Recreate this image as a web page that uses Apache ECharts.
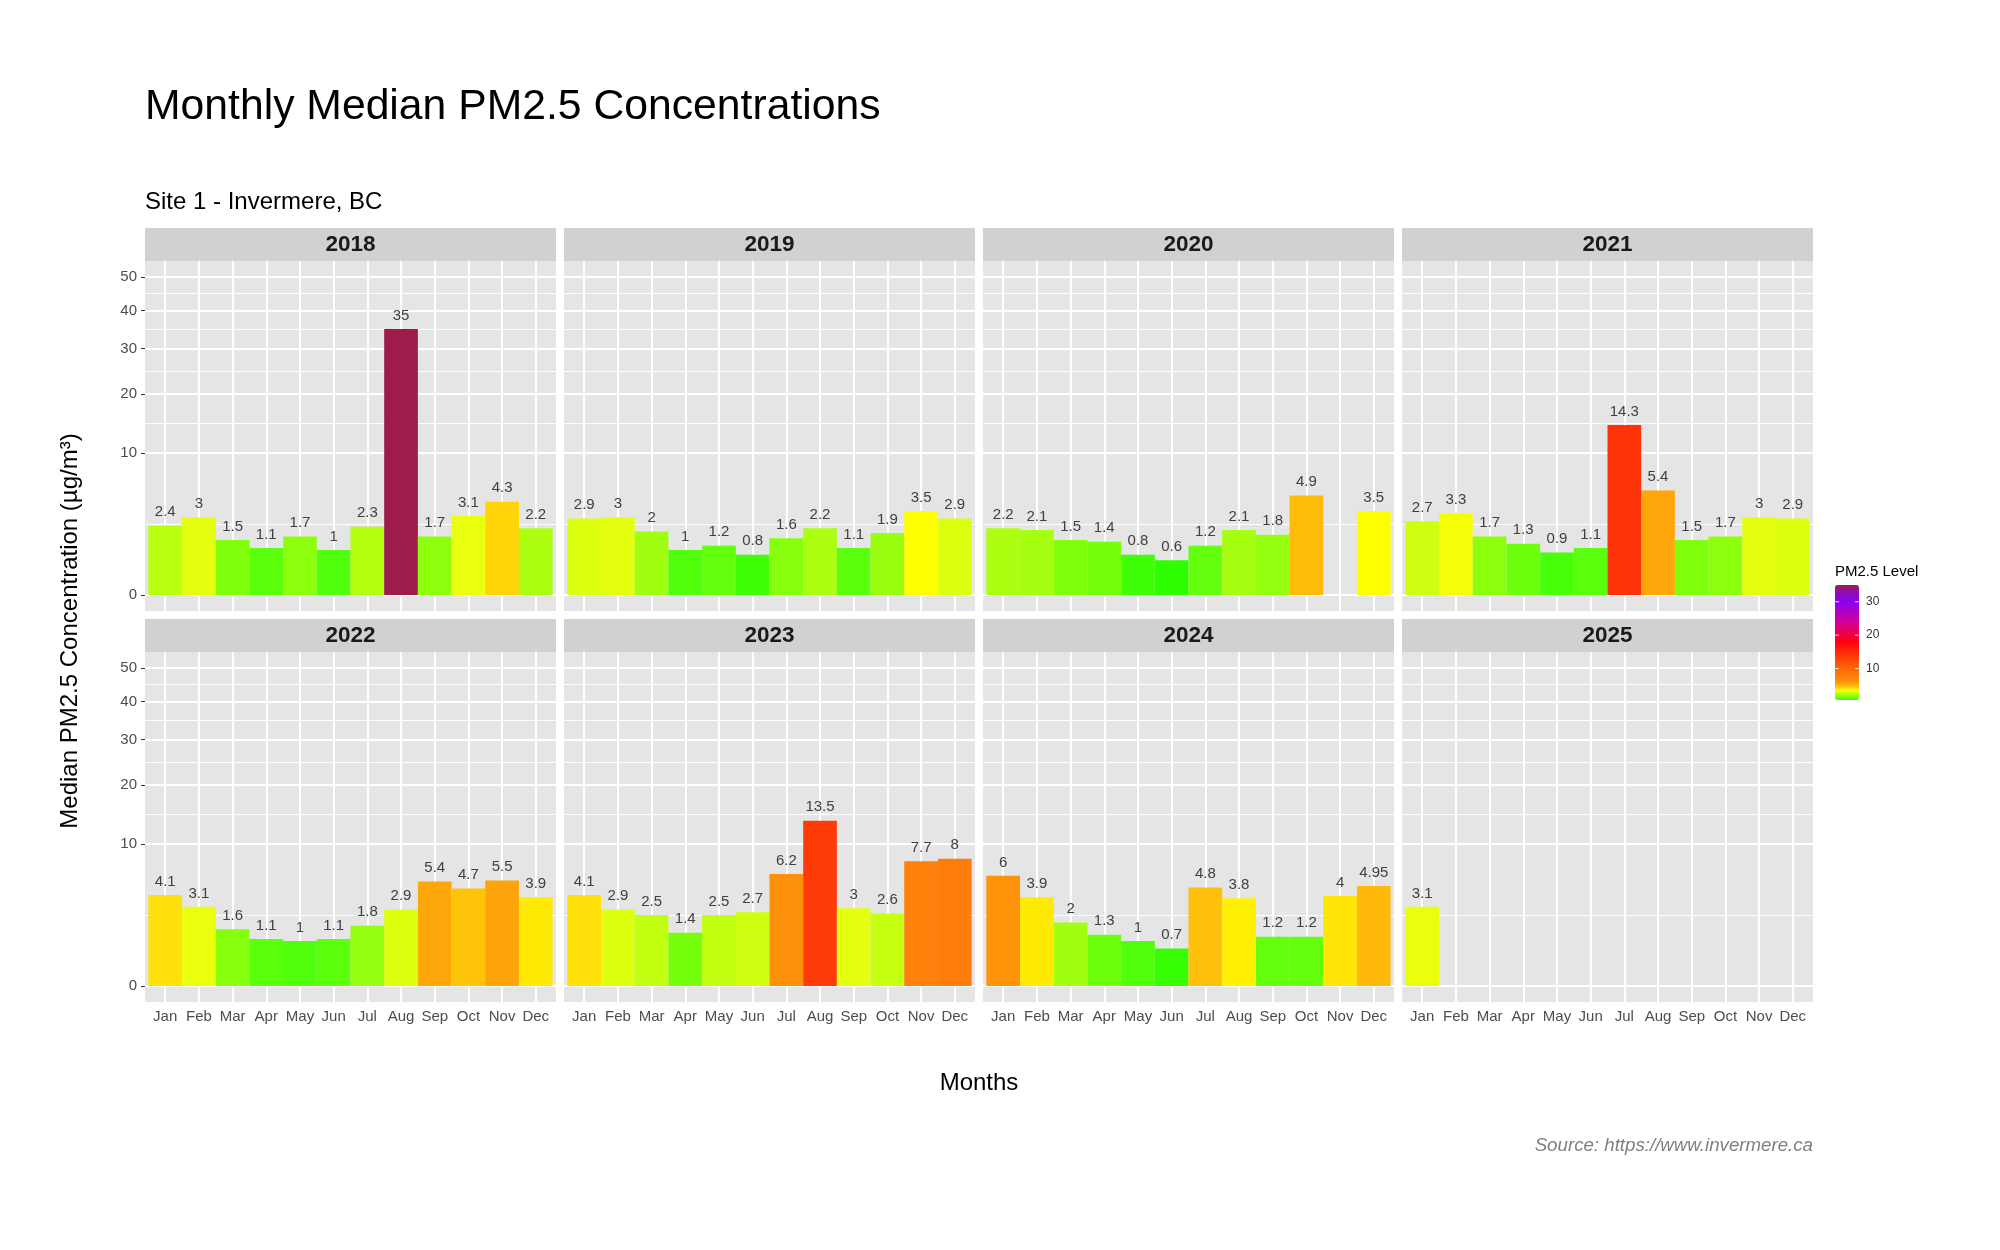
<!DOCTYPE html>
<html>
<head>
<meta charset="utf-8">
<script src="https://cdn.jsdelivr.net/npm/echarts@6/dist/echarts.min.js"></script>
<style>html,body{margin:0;padding:0;background:#fff}#chart{width:2000px;height:1250px}</style>
</head>
<body>
<div id="chart"></div>
<script>
// ---------- data ----------
const months = ['Jan','Feb','Mar','Apr','May','Jun','Jul','Aug','Sep','Oct','Nov','Dec'];
const years = ['2018','2019','2020','2021','2022','2023','2024','2025'];
const pm2018 = [2.4, 3, 1.5, 1.1, 1.7, 1, 2.3, 35, 1.7, 3.1, 4.3, 2.2];
const pm2019 = [2.9, 3, 2, 1, 1.2, 0.8, 1.6, 2.2, 1.1, 1.9, 3.5, 2.9];
const pm2020 = [2.2, 2.1, 1.5, 1.4, 0.8, 0.6, 1.2, 2.1, 1.8, 4.9, null, 3.5];
const pm2021 = [2.7, 3.3, 1.7, 1.3, 0.9, 1.1, 14.3, 5.4, 1.5, 1.7, 3, 2.9];
const pm2022 = [4.1, 3.1, 1.6, 1.1, 1, 1.1, 1.8, 2.9, 5.4, 4.7, 5.5, 3.9];
const pm2023 = [4.1, 2.9, 2.5, 1.4, 2.5, 2.7, 6.2, 13.5, 3, 2.6, 7.7, 8];
const pm2024 = [6, 3.9, 2, 1.3, 1, 0.7, 4.8, 3.8, 1.2, 1.2, 4, 4.95];
const pm2025 = [3.1, null, null, null, null, null, null, null, null, null, null, null];
const yTicks = [0, 10, 20, 30, 40, 50];
const legendTicks = [10, 20, 30];
const colorMin = 0.6, colorMax = 35;

// ---------- styles ----------
const FONT = '"Liberation Sans", Arial, sans-serif';
const colorStops = [
  [0.6,'#2EFF00'],[1.0,'#50FF0C'],[1.5,'#80FF0A'],[2.0,'#A0FF10'],[2.5,'#C0FF10'],
  [3.0,'#E5FF10'],[3.5,'#FFFF00'],[4.3,'#FFD50A'],[5.4,'#FFA50A'],[6.2,'#FF8F0A'],
  [8.0,'#FF7D0A'],[14.3,'#FF3308'],[18,'#FF0010'],[24,'#D0009A'],[30,'#8A00F0'],
  [33,'#8E10A8'],[35,'#9E1C4C']
];
function hex2rgb(h){return [parseInt(h.substr(1,2),16),parseInt(h.substr(3,2),16),parseInt(h.substr(5,2),16)];}
function colorAt(v){
  if (v <= colorStops[0][0]) return colorStops[0][1];
  for (let i=1;i<colorStops.length;i++){
    if (v <= colorStops[i][0]){
      const [v0,c0]=colorStops[i-1],[v1,c1]=colorStops[i];
      const t=(v-v0)/(v1-v0), a=hex2rgb(c0), b=hex2rgb(c1);
      return 'rgb('+a.map((x,k)=>Math.round(x+(b[k]-x)*t)).join(',')+')';
    }
  }
  return colorStops[colorStops.length-1][1];
}
const rampColors = [];
for (let i=0;i<=200;i++) rampColors.push(colorAt(colorMin + (colorMax-colorMin)*i/200));

const allData = [pm2018, pm2019, pm2020, pm2021, pm2022, pm2023, pm2024, pm2025];

// layout
const panelLeft0 = 145, panelW = 411, gapX = 8;
const stripH = 33;
const rowTops = [228, 619];
const panelH = 350;
const ySqrtMax = Math.sqrt(50);
const yMin = -0.05*ySqrtMax, yMax = 1.05*ySqrtMax;
const barW = panelW/12.2;

const grids=[], xAxes=[], yAxes=[], series=[], graphics=[];
const majorY = yTicks.map(Math.sqrt);
const minorY = [];
for (let i=0;i<majorY.length-1;i++) minorY.push((majorY[i]+majorY[i+1])/2);
const monthPos = months.map((m,j)=>j+1);

years.forEach((yr, i) => {
  const col = i%4, row = Math.floor(i/4);
  const left = panelLeft0 + col*(panelW+gapX);
  const stripTop = rowTops[row];
  const top = stripTop + stripH;
  grids.push({left: left, top: top, width: panelW, height: panelH, show: true,
    backgroundColor: '#E5E5E5', borderWidth: 0, containLabel: false});
  const bottom = row === 1;
  xAxes.push({gridIndex: i, type: 'value', min: 0.4, max: 12.6,
    axisLine: {show: false}, splitLine: {show: false},
    axisTick: {show: bottom, customValues: monthPos, length: 4, lineStyle: {color: '#333', width: 1}},
    axisLabel: {show: bottom, customValues: monthPos, formatter: v => months[Math.round(v)-1],
      color: '#4D4D4D', fontSize: 15, fontFamily: FONT, margin: 7}});
  yAxes.push({gridIndex: i, type: 'value', min: yMin, max: yMax,
    axisLine: {show: false}, splitLine: {show: false},
    axisTick: {show: col === 0, customValues: majorY, length: 4, lineStyle: {color: '#333', width: 1}},
    axisLabel: {show: col === 0, customValues: majorY, formatter: v => String(Math.round(v*v)),
      color: '#4D4D4D', fontSize: 15, fontFamily: FONT, margin: 8}});
  const vals = allData[i];
  const data = [];
  vals.forEach((v, j) => { if (v !== null) data.push([j+1, Math.sqrt(v), v]); });
  const gridLines = [];
  majorY.forEach(y => gridLines.push({yAxis: y, lineStyle: {width: 2}}));
  minorY.forEach(y => gridLines.push({yAxis: y, lineStyle: {width: 1}}));
  monthPos.forEach(x => gridLines.push({xAxis: x, lineStyle: {width: 2}}));
  series.push({type: 'bar', xAxisIndex: i, yAxisIndex: i, data: data, barWidth: barW,
    encode: {x: 0, y: 1}, z: 2, emphasis: {disabled: true},
    label: {show: true, position: 'top', distance: 6, formatter: p => String(p.value[2]),
      color: '#404040', fontSize: 15, fontFamily: FONT},
    markLine: {silent: true, symbol: 'none', z: 1, animation: false, label: {show: false},
      lineStyle: {color: '#FFFFFF', type: 'solid', width: 2}, emphasis: {disabled: true},
      data: gridLines}});
  graphics.push({type: 'rect', shape: {x: left, y: stripTop, width: panelW, height: stripH},
    style: {fill: '#D1D1D1'}, z: 0});
  graphics.push({type: 'text', x: left + panelW/2, y: stripTop + stripH/2 + 0.5,
    style: {text: yr, font: 'bold 22.5px ' + FONT, fill: '#1A1A1A', align: 'center', verticalAlign: 'middle',
      textAlign: 'center', textVerticalAlign: 'middle'}});
});

// titles
function txt(x, y, text, font, fill, align, extra){
  return Object.assign({type: 'text', x: x, y: y,
    style: {text: text, font: font, fill: fill, align: align, verticalAlign: 'middle',
      textAlign: align, textVerticalAlign: 'middle'}}, extra || {});
}
graphics.push(txt(145, 107.5, 'Monthly Median PM2.5 Concentrations', '42.7px ' + FONT, '#000', 'left'));
graphics.push(txt(145, 202, 'Site 1 - Invermere, BC', '24px ' + FONT, '#000', 'left'));
graphics.push(txt(979, 1083, 'Months', '24px ' + FONT, '#000', 'center'));
graphics.push(txt(70, 631, 'Median PM2.5 Concentration (µg/m³)', '24px ' + FONT, '#000', 'center', {rotation: Math.PI/2}));
graphics.push(txt(1813, 1146, 'Source: https://www.invermere.ca', 'italic 18.7px ' + FONT, '#808080', 'right'));

// legend
const cbLeft = 1835, cbTop = 585, cbW = 24, cbH = 115;
graphics.push(txt(cbLeft, 572, 'PM2.5 Level', '15px ' + FONT, '#000', 'left'));
legendTicks.forEach(v => {
  const y = cbTop + (colorMax - v)/(colorMax - colorMin)*cbH;
  graphics.push(txt(cbLeft + cbW + 7, y, String(v), '12px ' + FONT, '#333', 'left'));
  graphics.push({type: 'line', shape: {x1: cbLeft, y1: y, x2: cbLeft + 4, y2: y}, style: {stroke: 'rgba(255,255,255,0.8)', lineWidth: 1}, z: 100});
  graphics.push({type: 'line', shape: {x1: cbLeft + cbW - 4, y1: y, x2: cbLeft + cbW, y2: y}, style: {stroke: 'rgba(255,255,255,0.8)', lineWidth: 1}, z: 100});
});

const chart = echarts.init(document.getElementById('chart'), null, {renderer: 'canvas'});
chart.setOption({
  animation: false,
  backgroundColor: '#FFFFFF',
  grid: grids, xAxis: xAxes, yAxis: yAxes, series: series,
  visualMap: [{type: 'continuous', min: colorMin, max: colorMax, dimension: 2,
    seriesIndex: series.map((s, k) => k), orient: 'vertical', left: cbLeft, top: cbTop,
    itemWidth: cbW, itemHeight: cbH, calculable: false, padding: 0, text: null,
    hoverLink: false, inRange: {color: rampColors}}],
  graphic: {elements: graphics}
});
</script>
</body>
</html>
